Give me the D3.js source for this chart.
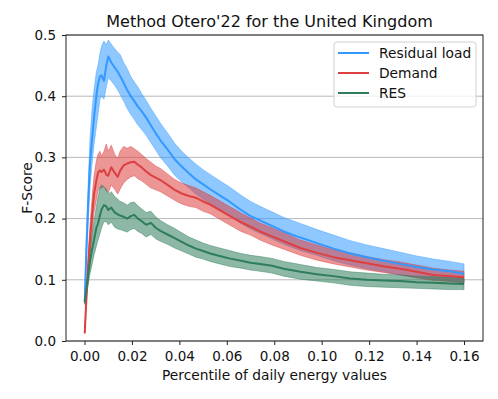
<!DOCTYPE html>
<html>
<head>
<meta charset="utf-8">
<script src="https://cdn.jsdelivr.net/npm/d3@7"></script>
<style>
  body { margin: 0; background: #fff; }
  text { font-family: 'DejaVu Sans', sans-serif; }
</style>
</head>
<body>
<script>
// percentile positions shared by all three series
var pct = [0.0001,0.0008,0.0015,0.0023,0.0032,0.004,0.005,0.0057,0.0065,0.0072,0.0082,0.0092,0.01,0.0113,0.0127,0.014,0.015,0.0165,0.018,0.0195,0.021,0.0225,0.024,0.026,0.028,0.030,0.032,0.035,0.038,0.041,0.044,0.047,0.050,0.053,0.057,0.061,0.066,0.070,0.074,0.079,0.084,0.091,0.098,0.105,0.112,0.119,0.126,0.133,0.140,0.147,0.154,0.160];

var residualMean = [0.065,0.15,0.22,0.29,0.33,0.365,0.40,0.42,0.432,0.434,0.425,0.45,0.465,0.455,0.447,0.44,0.433,0.422,0.41,0.4,0.392,0.383,0.376,0.365,0.352,0.34,0.328,0.313,0.297,0.285,0.274,0.264,0.256,0.248,0.238,0.228,0.214,0.204,0.197,0.188,0.179,0.169,0.16,0.151,0.143,0.137,0.131,0.126,0.121,0.117,0.114,0.11];
var residualHi = [0.07,0.17,0.25,0.33,0.38,0.41,0.44,0.45,0.47,0.482,0.49,0.484,0.492,0.485,0.478,0.472,0.468,0.455,0.445,0.432,0.423,0.415,0.405,0.393,0.38,0.368,0.356,0.34,0.323,0.31,0.299,0.289,0.28,0.272,0.262,0.252,0.238,0.228,0.22,0.211,0.202,0.192,0.182,0.173,0.164,0.157,0.151,0.145,0.139,0.134,0.13,0.126];
var residualLo = [0.06,0.13,0.19,0.25,0.29,0.32,0.35,0.37,0.395,0.40,0.395,0.415,0.43,0.425,0.418,0.41,0.403,0.392,0.38,0.37,0.362,0.353,0.346,0.336,0.324,0.312,0.3,0.286,0.271,0.26,0.25,0.24,0.232,0.225,0.215,0.205,0.192,0.183,0.176,0.167,0.158,0.148,0.14,0.131,0.124,0.118,0.113,0.108,0.104,0.1,0.098,0.095];

var demandMean = [0.013,0.07,0.12,0.165,0.205,0.24,0.262,0.275,0.279,0.276,0.28,0.272,0.27,0.284,0.275,0.268,0.278,0.287,0.29,0.292,0.293,0.288,0.284,0.277,0.271,0.267,0.263,0.255,0.247,0.241,0.237,0.234,0.228,0.223,0.214,0.205,0.194,0.187,0.179,0.171,0.163,0.152,0.144,0.137,0.132,0.127,0.122,0.118,0.113,0.108,0.106,0.104];
var demandHi = [0.015,0.08,0.14,0.19,0.235,0.27,0.295,0.305,0.31,0.302,0.31,0.322,0.31,0.32,0.305,0.298,0.31,0.318,0.315,0.318,0.314,0.31,0.305,0.298,0.292,0.286,0.282,0.273,0.264,0.258,0.254,0.25,0.244,0.238,0.229,0.22,0.209,0.201,0.193,0.185,0.177,0.165,0.157,0.149,0.144,0.138,0.133,0.129,0.124,0.119,0.116,0.114];
var demandLo = [0.011,0.06,0.1,0.14,0.175,0.21,0.23,0.245,0.25,0.25,0.252,0.245,0.242,0.255,0.248,0.24,0.248,0.258,0.264,0.268,0.27,0.265,0.262,0.256,0.25,0.247,0.244,0.237,0.23,0.224,0.22,0.218,0.212,0.208,0.199,0.19,0.179,0.173,0.165,0.157,0.15,0.14,0.132,0.126,0.121,0.116,0.112,0.108,0.103,0.099,0.097,0.095];

var resMean = [0.063,0.085,0.105,0.13,0.15,0.165,0.185,0.192,0.205,0.215,0.222,0.22,0.214,0.218,0.21,0.207,0.205,0.203,0.2,0.204,0.206,0.2,0.196,0.19,0.193,0.185,0.18,0.174,0.168,0.162,0.156,0.151,0.147,0.143,0.139,0.135,0.131,0.128,0.126,0.123,0.118,0.113,0.109,0.106,0.102,0.1,0.099,0.098,0.096,0.095,0.094,0.093];
var resHi = [0.066,0.095,0.12,0.15,0.175,0.195,0.22,0.235,0.25,0.255,0.252,0.248,0.24,0.244,0.236,0.232,0.228,0.226,0.222,0.226,0.227,0.221,0.216,0.21,0.212,0.203,0.197,0.19,0.184,0.177,0.17,0.165,0.16,0.156,0.152,0.148,0.143,0.14,0.138,0.135,0.13,0.125,0.12,0.117,0.113,0.111,0.109,0.108,0.106,0.105,0.104,0.102];
var resLo = [0.06,0.075,0.09,0.11,0.125,0.14,0.155,0.165,0.175,0.185,0.195,0.195,0.19,0.194,0.186,0.183,0.182,0.18,0.178,0.182,0.184,0.179,0.176,0.17,0.174,0.167,0.163,0.158,0.152,0.147,0.142,0.137,0.134,0.13,0.126,0.122,0.119,0.116,0.114,0.111,0.106,0.101,0.098,0.095,0.091,0.089,0.088,0.087,0.086,0.085,0.084,0.084];

var seriesNames = ['Residual load', 'Demand', 'RES'];
var xTicks = [0, 0.02, 0.04, 0.06, 0.08, 0.10, 0.12, 0.14, 0.16];
var yTicks = [0, 0.1, 0.2, 0.3, 0.4, 0.5];

var colors = ['#3399ff', '#dd4040', '#2e7d5b'];
var series = [
  {mean: residualMean, lo: residualLo, hi: residualHi},
  {mean: demandMean, lo: demandLo, hi: demandHi},
  {mean: resMean, lo: resLo, hi: resHi}
];

var margin = {top: 35, right: 15, bottom: 58, left: 66},
  width = 498 - margin.left - margin.right,
  height = 399 - margin.top - margin.bottom;

var svg = d3.select('body')
  .append('svg')
  .attr('width', 498)
  .attr('height', 399);

var chart = svg.append('g')
  .attr('transform', `translate(${margin.left},${margin.top})`);

var x = d3.scaleLinear()
  .domain([-0.0078, 0.168])
  .range([0, width]);
var y = d3.scaleLinear()
  .domain([0, 0.5])
  .range([height, 0]);

// grid
chart.append('g')
  .selectAll('line')
  .data(yTicks)
  .enter()
    .append('line')
    .attr('x1', 0)
    .attr('x2', width)
    .attr('y1', d => y(d))
    .attr('y2', d => y(d))
    .attr('stroke', '#b0b0b0')
    .attr('stroke-width', 0.9);

var area = d3.area()
  .x((d, i) => x(pct[i]))
  .y0(d => y(d[0]))
  .y1(d => y(d[1]));
var line = d3.line()
  .x((d, i) => x(pct[i]))
  .y(d => y(d));

// bands under lines, like matplotlib zorder
series.forEach(function(s, k) {
  chart.append('path')
    .datum(s.lo.map((v, i) => [v, s.hi[i]]))
    .attr('d', area)
    .attr('fill', colors[k])
    .attr('fill-opacity', 0.55)
    .attr('stroke', colors[k])
    .attr('stroke-opacity', 0.55)
    .attr('stroke-width', 0.8);
});
series.forEach(function(s, k) {
  chart.append('path')
    .datum(s.mean)
    .attr('d', line)
    .attr('fill', 'none')
    .attr('stroke', colors[k])
    .attr('stroke-width', 2)
    .attr('stroke-linejoin', 'round');
});

function xAxis(g) {
  g.attr('transform', `translate(0,${height})`)
   .call(d3.axisBottom(x).tickValues(xTicks).tickFormat(d3.format('.2f')).tickSizeOuter(0).tickSize(4).tickPadding(6))
   .attr('font-size', '13.5px')
   .attr('font-family', 'DejaVu Sans');
  g.select('.domain').remove();
}
function yAxis(g) {
  g.call(d3.axisLeft(y).tickValues(yTicks).tickFormat(d3.format('.1f')).tickSizeOuter(0).tickSize(4).tickPadding(6))
   .attr('font-size', '13.5px')
   .attr('font-family', 'DejaVu Sans');
  g.select('.domain').remove();
}
chart.append('g').call(xAxis);
chart.append('g').call(yAxis);
chart.selectAll('.tick line').attr('stroke', '#222');
chart.selectAll('.tick text').attr('fill', '#111');

// frame
chart.append('rect')
  .attr('width', width)
  .attr('height', height)
  .attr('fill', 'none')
  .attr('stroke', '#222')
  .attr('stroke-width', 1);

chart.append('text')
  .attr('x', width / 2 - 5)
  .attr('y', -8)
  .attr('text-anchor', 'middle')
  .attr('font-size', '16px')
  .attr('fill', '#111')
  .text("Method Otero'22 for the United Kingdom");

chart.append('text')
  .attr('x', width / 2)
  .attr('y', height + 39)
  .attr('text-anchor', 'middle')
  .attr('font-size', '13.8px')
  .attr('fill', '#111')
  .text('Percentile of daily energy values');

chart.append('text')
  .attr('transform', `translate(-34,${height / 2}) rotate(-90)`)
  .attr('text-anchor', 'middle')
  .attr('font-size', '13.8px')
  .attr('fill', '#111')
  .text('F-Score');

// legend
var legend = chart.append('g')
  .attr('transform', 'translate(268,7)');
legend.append('rect')
  .attr('width', 142)
  .attr('height', 65)
  .attr('rx', 3)
  .attr('fill', '#fff')
  .attr('fill-opacity', 0.8)
  .attr('stroke', '#d0d0d0');
var rows = legend.selectAll('g')
  .data(seriesNames)
  .enter()
    .append('g')
    .attr('transform', (d, i) => `translate(0,${11 + i * 20})`);
rows.append('line')
  .attr('x1', 4)
  .attr('x2', 35)
  .attr('stroke', (d, i) => colors[i])
  .attr('stroke-width', 2);
rows.append('text')
  .attr('x', 45)
  .attr('y', 5)
  .attr('font-size', '13.8px')
  .attr('fill', '#111')
  .text(d => d);
</script>
</body>
</html>
